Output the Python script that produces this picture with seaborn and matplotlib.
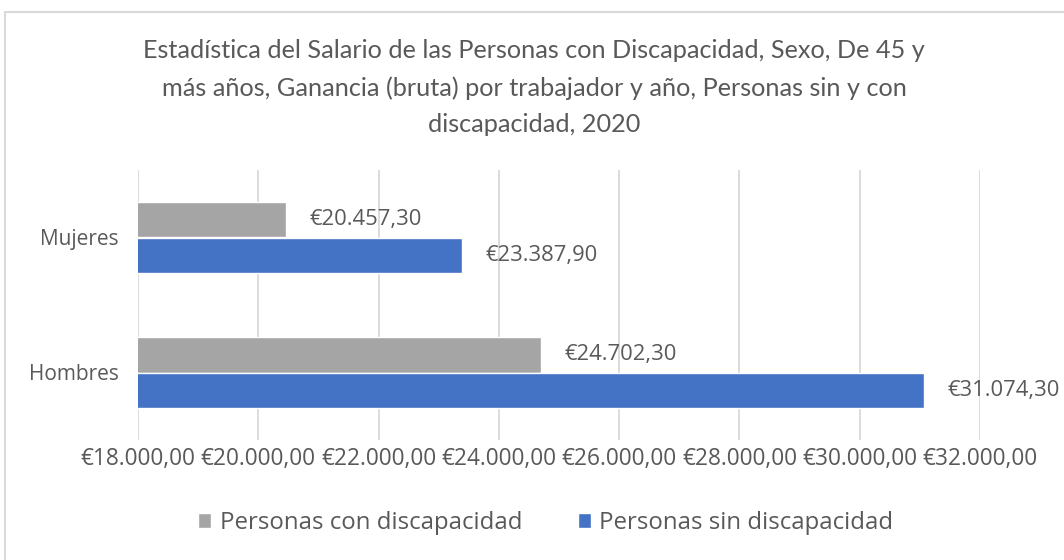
import matplotlib
matplotlib.use("Agg")
import matplotlib.pyplot as plt
import seaborn as sns
import pandas as pd
from matplotlib.patches import Rectangle

# Data
sexos = ["Mujeres", "Hombres"]
grupos = ["Personas con discapacidad", "Personas sin discapacidad"]
con_discapacidad = [20457.30, 24702.30]
sin_discapacidad = [23387.90, 31074.30]
x_ticks = [18000, 20000, 22000, 24000, 26000, 28000, 30000, 32000]

colores = ["#a5a5a5", "#4472c4"]
texto = "#595959"


def euro(v):
    s = f"{v:,.2f}".replace(",", "X").replace(".", ",").replace("X", ".")
    return "€" + s


df = pd.DataFrame({
    "sexo": sexos * 2,
    "grupo": [grupos[0]] * len(sexos) + [grupos[1]] * len(sexos),
    "valor": con_discapacidad + sin_discapacidad,
})

sns.set_theme(style="white")
plt.rcParams["font.family"] = ["Open Sans", "DejaVu Sans"]

fig = plt.figure(figsize=(10.64, 5.6), dpi=100)
ax = fig.add_axes([138 / 1064, 120 / 560, 842 / 1064, 270 / 560])

sns.barplot(data=df, x="valor", y="sexo", hue="grupo", order=sexos,
            hue_order=grupos, palette=colores, orient="h", width=0.52,
            saturation=1, ax=ax, zorder=3)

for cont in ax.containers:
    vals = [b.get_width() for b in cont]
    ax.bar_label(cont, labels=[euro(v) for v in vals], padding=17,
                 fontsize=15.8, color=texto)

ax.set_xlim(18000, 32000)
ax.set_ylim(1.5, -0.5)
ax.set_xticks(x_ticks)
ax.set_xticklabels([euro(t) for t in x_ticks], fontsize=16.3, color=texto)
ax.tick_params(axis="x", length=0, pad=5)
ax.tick_params(axis="y", length=0, pad=14, labelsize=15, labelcolor=texto)
ax.set_xlabel("")
ax.set_ylabel("")
ax.grid(axis="x", color="#d9d9d9", linewidth=1.3, zorder=0)
for s in ax.spines.values():
    s.set_visible(False)

ax.legend(loc="center", bbox_to_anchor=(0.513, 37 / 560),
          bbox_transform=fig.transFigure, ncol=2, frameon=False,
          fontsize=17.3, labelcolor=texto, handlelength=0.55, handleheight=0.55,
          handletextpad=0.35, columnspacing=2.3)

fig.suptitle("Estadística del Salario de las Personas con Discapacidad, Sexo, De 45 y\n"
             "más años, Ganancia (bruta) por trabajador y año, Personas sin y con\n"
             "discapacidad, 2020",
             x=0.502, y=1 - 39 / 560, va="top", fontsize=18.2, color=texto,
             linespacing=1.72, family=["Lato", "DejaVu Sans"])

fig.patches.append(Rectangle((5 / 1064, -0.05), 1.1, 1.05 - 12 / 560,
                             transform=fig.transFigure, fill=False,
                             edgecolor="#d9d9d9", linewidth=1.5))

fig.savefig("out.png", dpi=100)
